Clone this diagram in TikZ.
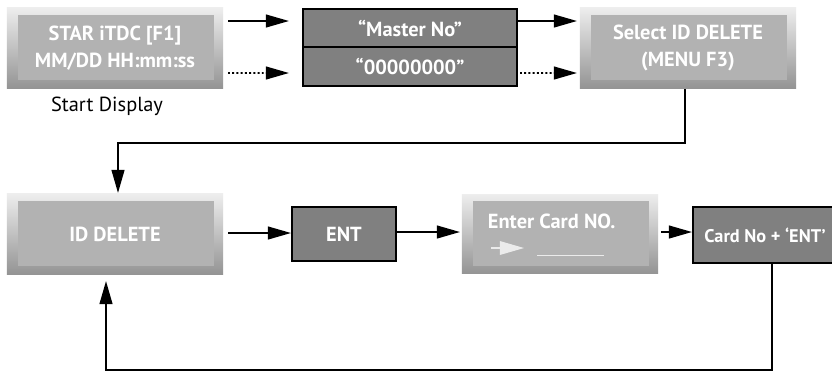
\documentclass[tikz,border=0pt]{standalone}
\usepackage{fontspec}
\setsansfont{PT Sans}
\usetikzlibrary{arrows.meta,calc}

\begin{document}
\begin{tikzpicture}[x=0.025cm, y=-0.025cm,
    font=\sffamily\bfseries\fontsize{14.5}{19}\selectfont, line width=1.4pt,
    panel/.style={minimum width=5.4cm, minimum height=2cm, inner sep=0pt,
        align=center, text=white, top color=black!7, bottom color=black!42,
        path picture={\fill[black!30]
            ($(path picture bounding box.south west)+(11,-8)$) rectangle
            ($(path picture bounding box.north east)+(-9,7)$);}},
    key/.style={draw, fill=black!50, text=white, inner sep=0pt, align=center},
    arrow/.style={-{Triangle[length=5.8mm,width=3.2mm]}},
    dots/.style={arrow, dash pattern=on 1.4pt off 1.6pt},
    caption/.style={font=\sffamily\fontsize{14.5}{17}\selectfont}
]
\useasboundingbox (0,0) rectangle (832,370);
\clip (0,0) rectangle (832,370);
\fill[white] (0,0) rectangle (832,370);

% top row
\node[panel] (start) at (115,48) {STAR iTDC [F1]\\MM/DD HH:mm:ss};
\node[caption] (startcap) at (107,106) {Start Display};
\node[key, minimum width=5.35cm, minimum height=0.96cm] (mastr) at (410,28) {“Master No”};
\node[key, minimum width=5.35cm, minimum height=0.96cm] (zeros) at (410,66.5) {“00000000”};
\node[panel] (select) at (688,48) {Select ID DELETE\\(MENU F3)};

% bottom row
\node[panel] (iddel) at (115,234) {ID DELETE};
\node[key, minimum width=2.6cm, minimum height=1.35cm] (ent) at (344,234) {ENT};
\node[panel, minimum width=4.9cm, minimum height=1.98cm] (enter) at (560,234) {};
\node[text=white, inner sep=0pt, anchor=west] (entertxt) at ($(enter.west)+(26,-13)$) {Enter Card NO.};
\draw[black!8, line width=0.8pt, -{Triangle[length=6mm,width=3.4mm]}]
    ($(enter.west)+(30,14)$) -- ++(33,0);
\draw[black!8, line width=0.7pt] ($(enter.west)+(76,21)$) -- ++(67,0);
\node[key, font=\sffamily\bfseries\fontsize{13}{15}\selectfont,
    minimum width=3.6cm, minimum height=1.4cm] (cardno) at (765,235) {Card No + ‘ENT’};

\draw[arrow] ($(start.east)+(4,-27)$) -- ($(mastr.west)+(-13,-7)$);
\draw[dots] ($(start.east)+(4,25)$) -- ($(zeros.west)+(-13,6.5)$);
\draw[arrow] ($(mastr.east)+(0,-7)$) -- ($(select.west)+(-2,-27)$);
\draw[dots] ($(zeros.east)+(2,6.5)$) -- ($(select.west)+(-2,25)$);
\draw[arrow] ($(select.south)+(-3,0)$) -- ++(0,54) -| ($(iddel.north)+(3,0)$);
\draw[arrow] ($(iddel.east)+(4,-1)$) -- ($(ent.west)+(0,-1)$);
\draw[arrow] ($(ent.east)+(0,-2)$) -- ($(enter.west)+(-1,-2)$);
\draw[arrow] ($(enter.east)+(2,-2)$) -- ($(cardno.west)+(0,-3)$);
\draw[arrow] ($(cardno.south)+(7,0)$) -- ++(0,106) -| ($(iddel.south)+(-9,6)$);
\end{tikzpicture}
\end{document}
